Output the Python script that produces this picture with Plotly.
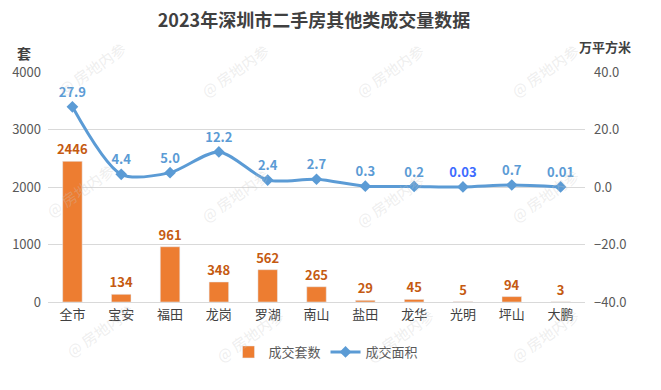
import plotly.graph_objects as go

categories = ["全市", "宝安", "福田", "龙岗", "罗湖", "南山", "盐田", "龙华", "光明", "坪山", "大鹏"]
units = [2446, 134, 961, 348, 562, 265, 29, 45, 5, 94, 3]
area = [27.9, 4.4, 5.0, 12.2, 2.4, 2.7, 0.3, 0.2, 0.03, 0.7, 0.01]
area_labels = ["27.9", "4.4", "5.0", "12.2", "2.4", "2.7", "0.3", "0.2", "0.03", "0.7", "0.01"]
left_ticks = [0, 1000, 2000, 3000, 4000]
right_ticks = [-40, -20, 0, 20, 40]

FONT = "Noto Sans CJK SC"
BAR = "#ED7D31"
LINE = "#5B9BD5"

# page body has an 8px default margin; size the figure so it fits the window
W, H = 653, 382
OFF = 8

label_colors = [LINE] * len(area)
label_colors[8] = "#3D6BFF"

fig = go.Figure()
fig.add_trace(go.Bar(
    x=categories, y=units, name="成交套数", marker_color=BAR, width=0.4,
    text=[str(v) for v in units], textposition="outside", cliponaxis=False,
    constraintext="none",
    textfont=dict(color="#C55A11", size=13, family=FONT, weight="bold"),
))
fig.add_trace(go.Scatter(
    x=categories, y=area, name="成交面积", yaxis="y2", mode="lines+markers+text",
    line=dict(color=LINE, width=3, shape="spline", smoothing=0.8),
    marker=dict(symbol="diamond", size=9, color=LINE),
    text=area_labels, textposition="top center", cliponaxis=False,
    textfont=dict(color=label_colors, size=13, family=FONT, weight="bold"),
))

# faint watermarks (positions in reference page pixels)
wm = [(92, 68), (80, 190), (235, 70), (235, 195), (390, 70), (390, 200), (545, 70), (545, 195),
      (100, 330), (250, 335), (400, 335), (545, 335)]
for (px, py) in wm:
    fig.add_annotation(xref="paper", yref="paper", xanchor="center", yanchor="middle",
                       x=(px - 48) / 537, y=(302 - py) / 230,
                       text="@ 房地内参", showarrow=False, textangle=-35,
                       font=dict(size=15, color="rgba(200,200,200,0.3)", family=FONT))

fig.add_annotation(xref="paper", yref="paper", xanchor="center", yanchor="middle",
                   x=(24 - 48) / 537, y=(302 - 53) / 230,
                   text="套", showarrow=False, font=dict(size=14, color="#404040", family=FONT, weight="bold"))
fig.add_annotation(xref="paper", yref="paper", xanchor="center", yanchor="middle",
                   x=(605 - 48) / 537, y=(302 - 47) / 230,
                   text="万平方米", showarrow=False, font=dict(size=13, color="#404040", family=FONT, weight="bold"))

fig.update_layout(
    width=W, height=H,
    margin=dict(l=48 - OFF, r=W - (585 - OFF), t=72 - OFF, b=H - (302 - OFF), autoexpand=False),
    paper_bgcolor="white", plot_bgcolor="white",
    font=dict(family=FONT, size=12, color="#595959"),
    title=dict(text="2023年深圳市二手房其他类成交量数据", x=(314 - OFF) / W, xanchor="center",
               yref="container", y=1 - (21 - OFF) / H, yanchor="middle",
               font=dict(size=18, color="#404040", family=FONT, weight="bold")),
    showlegend=True,
    legend=dict(orientation="h", xref="container", yref="container",
                x=(326 - OFF) / W, y=1 - (352 - OFF) / H,
                xanchor="center", yanchor="middle", font=dict(size=13, color="#595959")),
    bargap=0.6,
    xaxis=dict(range=[-0.5, 10.5], showgrid=False, showline=True, linecolor="#D9D9D9", linewidth=1,
               automargin=False, ticks="", tickfont=dict(size=13, color="#404040")),
    yaxis=dict(range=[0, 4000], tickvals=left_ticks, showgrid=True, gridcolor="#D9D9D9",
               zeroline=False, automargin=False, tickfont=dict(size=13, color="#595959"),
               ticklabelstandoff=6),
    yaxis2=dict(range=[-40, 40], tickvals=right_ticks, overlaying="y", side="right",
                showgrid=False, zeroline=False, tickformat=".1f", automargin=False,
                tickfont=dict(size=13, color="#595959"), ticklabelstandoff=8),
)

fig.write_html("out.html")
